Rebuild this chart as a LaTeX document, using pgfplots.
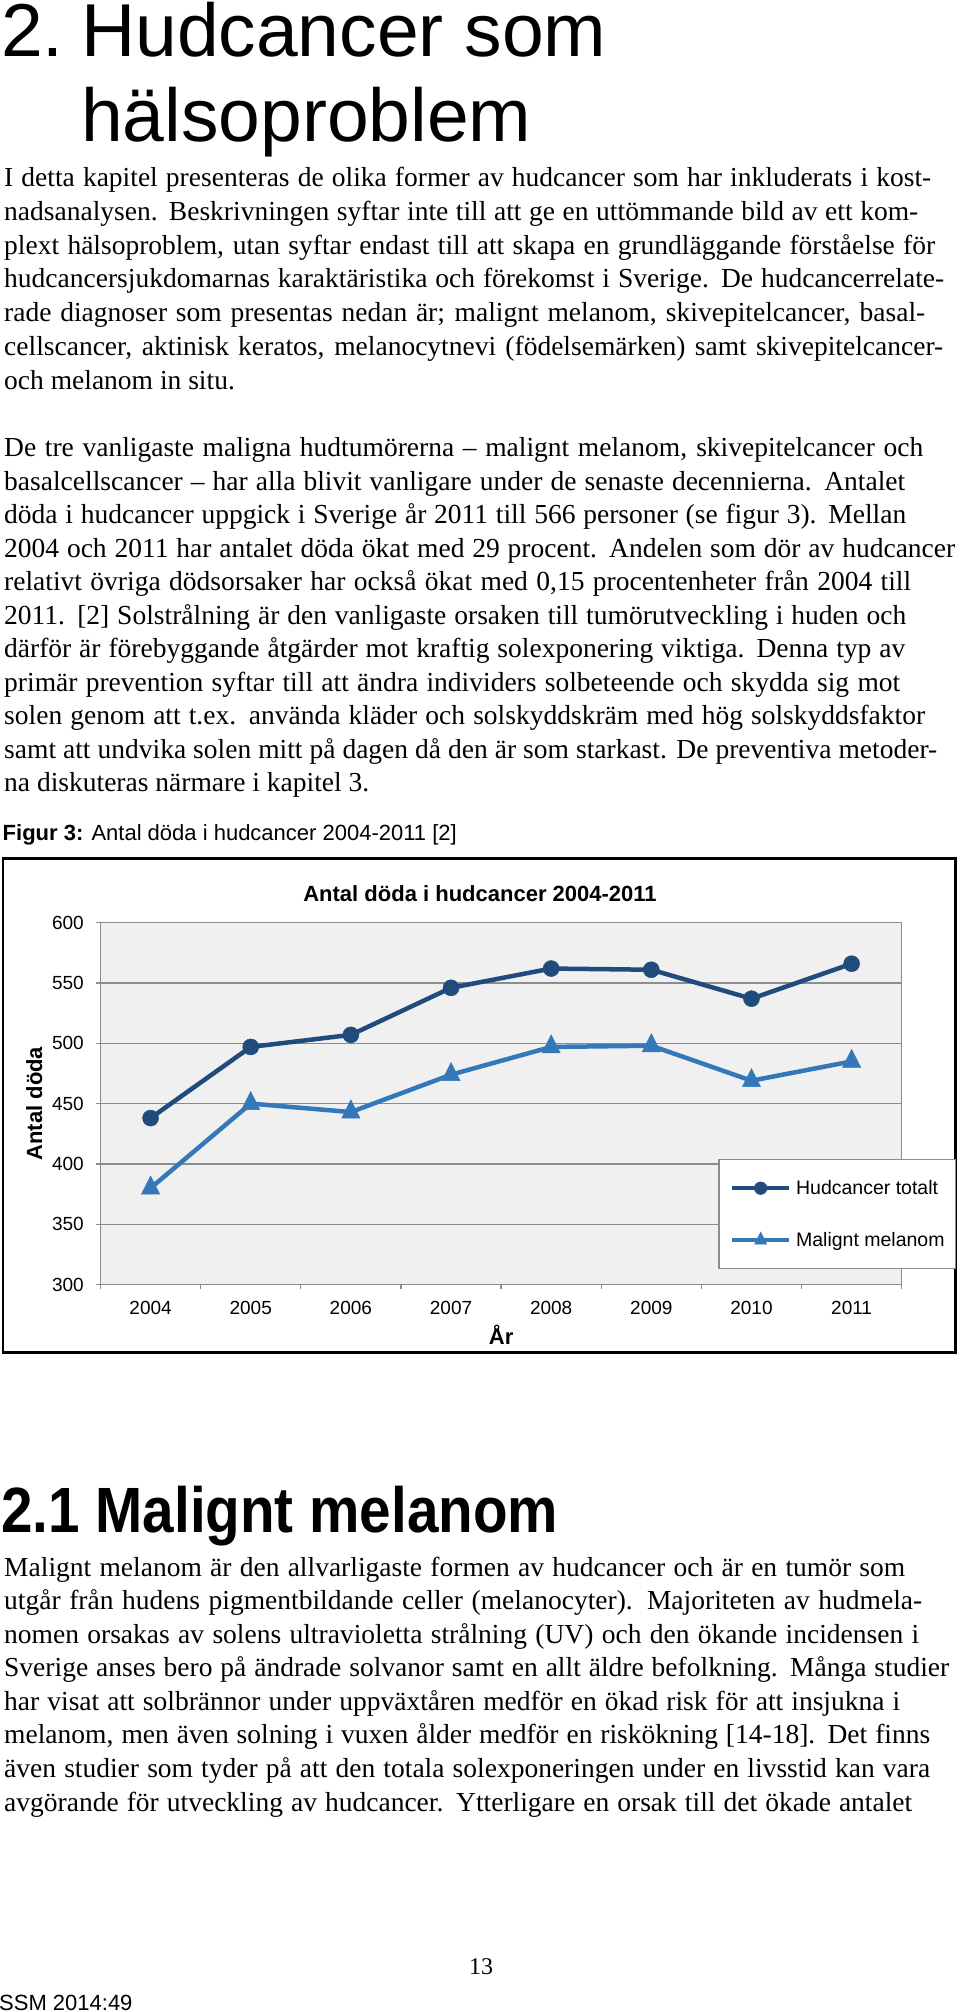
\documentclass[border=0pt]{standalone}
\usepackage{fontspec}
\setmainfont{Liberation Serif}
\newfontfamily\arial{Liberation Sans}
\newfontfamily\arialcond[FakeStretch=0.885]{Liberation Sans}
\usepackage{pgfplots}
\pgfplotsset{compat=1.18}
\definecolor{darkser}{RGB}{33,75,125}
\definecolor{lightser}{RGB}{52,120,186}
\definecolor{gridgray}{RGB}{140,140,140}
\definecolor{plotbg}{RGB}{240,240,240}
\newcommand{\bodyfont}{\fontsize{27.5}{33}\selectfont}
\newcommand{\jl}[3]{\node[anchor=base west, inner sep=0pt] at (4pt,-#1pt) {\bodyfont\makebox[#2pt][s]{#3}};}
\newcommand{\nl}[2]{\node[anchor=base west, inner sep=0pt] at (4pt,-#1pt) {\bodyfont #2};}
\begin{document}
\begin{tikzpicture}[x=1pt,y=1pt]
\useasboundingbox (0,0) rectangle (960,-2012);
% headings
\node[anchor=base west, inner sep=0pt] at (1,-57) {\arial\fontsize{75}{75}\selectfont 2.};
\node[anchor=base west, inner sep=0pt] at (81,-57) {\arial\fontsize{75}{75}\selectfont Hudcancer som};
\node[anchor=base west, inner sep=0pt] at (81,-142) {\arial\fontsize{75}{75}\selectfont hälsoproblem};
% paragraph 1
\jl{186.7}{927}{I detta kapitel presenteras de olika former av hudcancer som har inkluderats i kost-}
\jl{220.4}{914}{nadsanalysen. Beskrivningen syftar inte till att ge en uttömmande bild av ett kom-}
\jl{254.1}{931}{plext hälsoproblem, utan syftar endast till att skapa en grundläggande förståelse för}
\jl{287.8}{940}{hudcancersjukdomarnas karaktäristika och förekomst i Sverige. De hudcancerrelate-}
\jl{321.6}{921}{rade diagnoser som presentas nedan är; malignt melanom, skivepitelcancer, basal-}
\jl{355.3}{939}{cellscancer, aktinisk keratos, melanocytnevi (födelsemärken) samt skivepitelcancer-}
\nl{389.0}{och melanom in situ.}
% paragraph 2
\jl{456.7}{919}{De tre vanligaste maligna hudtumörerna – malignt melanom, skivepitelcancer och}
\jl{490.2}{901}{basalcellscancer – har alla blivit vanligare under de senaste decennierna. Antalet}
\jl{523.7}{902}{döda i hudcancer uppgick i Sverige år 2011 till 566 personer (se figur 3). Mellan}
\jl{557.2}{951}{2004 och 2011 har antalet döda ökat med 29 procent. Andelen som dör av hudcancer}
\jl{590.7}{907}{relativt övriga dödsorsaker har också ökat med 0,15 procentenheter från 2004 till}
\jl{624.2}{902}{2011. [2] Solstrålning är den vanligaste orsaken till tumörutveckling i huden och}
\jl{657.7}{901}{därför är förebyggande åtgärder mot kraftig solexponering viktiga. Denna typ av}
\jl{691.2}{896}{primär prevention syftar till att ändra individers solbeteende och skydda sig mot}
\jl{724.7}{921}{solen genom att t.ex. använda kläder och solskyddskräm med hög solskyddsfaktor}
\jl{758.2}{933}{samt att undvika solen mitt på dagen då den är som starkast. De preventiva metoder-}
\nl{791.7}{na diskuteras närmare i kapitel 3.}
% caption
\node[anchor=base west, inner sep=0pt] at (2.5,-840) {\arial\fontsize{22}{22}\selectfont\textbf{Figur 3:} Antal döda i hudcancer 2004-2011 [2]};
% chart frame
\draw[line width=2.5pt] (3,-858.5) rectangle (955.5,-1352.7);
\begin{axis}[
  at={(100.5pt,-1284.5pt)}, anchor=south west,
  scale only axis, width=801.2pt, height=361.8pt,
  xmin=0.5, xmax=8.5, ymin=300, ymax=600,
  xtick={0.5,1.5,...,8.5}, xticklabels={},
  extra x ticks={1,2,3,4,5,6,7,8},
  extra x tick labels={2004,2005,2006,2007,2008,2009,2010,2011},
  extra x tick style={tick style={draw=none}},
  ytick={300,350,...,600},
  tick pos=left, tick align=outside,
  major tick length=4.5pt,
  ymajorgrids, grid style={gridgray, line width=1.3pt},
  axis line style={gridgray, line width=1.3pt},
  tick style={gridgray, line width=1.3pt},
  axis background/.style={fill=plotbg},
  ticklabel style={font=\arial\fontsize{19}{19}\selectfont, inner sep=0pt},
  xticklabel style={anchor=north},
  yticklabel style={anchor=east, /pgf/number format/assume math mode=true},
  xticklabel shift=11.7pt,
  yticklabel shift=12pt,
  title={Antal döda i hudcancer 2004-2011},
  every axis title/.style={font=\arial\bfseries\fontsize{22}{22}\selectfont, at={(axis description cs:0.4737,1.058)}, anchor=base, inner sep=0pt},
  xlabel={År},
  xlabel style={font=\arial\bfseries\fontsize{22}{22}\selectfont, at={(axis description cs:0.5,-0.1645)}, anchor=base, inner sep=0pt},
  ylabel={Antal döda},
  ylabel style={font=\arial\bfseries\fontsize{22}{22}\selectfont, at={(axis description cs:-0.0730,0.5)}, anchor=base, inner sep=0pt},
  legend style={at={(0.7711,0.3461)}, anchor=north west, draw=gridgray, line width=1.2pt, fill=white,
     font=\arial\fontsize{19.5}{19.5}\selectfont, inner xsep=11pt, inner ysep=20.5pt, row sep=36pt,
     column sep=4.7pt, nodes={inner sep=0pt}},
  legend cell align=left,
]
\addplot[color=darkser, line width=4.5pt, mark=*, mark size=8pt, mark options={solid, fill=darkser, line width=0.5pt},
  legend image code/.code={\draw[mark repeat=2,mark phase=2,mark size=6.3pt] plot coordinates {(0pt,0pt) (28.5pt,0pt) (57pt,0pt)};}]
  coordinates {(1,438)(2,497)(3,507)(4,546)(5,562)(6,561)(7,537)(8,566)};
\addlegendentry{Hudcancer totalt}
\addplot[color=lightser, line width=4.5pt, mark=triangle*, mark size=10.5pt, mark options={solid, fill=lightser, line width=0.5pt, yscale=1.15},
  legend image code/.code={\draw[mark repeat=2,mark phase=2,mark size=7pt] plot coordinates {(0pt,0pt) (28.5pt,0pt) (57pt,0pt)};}]
  coordinates {(1,380)(2,450)(3,443)(4,474)(5,497)(6,498)(7,469)(8,485)};
\addlegendentry{Malignt melanom}
\end{axis}
% heading 2.1
\node[anchor=base west, inner sep=0pt] at (1,-1532) {\arialcond\bfseries\fontsize{64}{64}\selectfont 2.1 Malignt melanom};
% paragraph 3
\jl{1576.0}{901}{Malignt melanom är den allvarligaste formen av hudcancer och är en tumör som}
\jl{1609.6}{918}{utgår från hudens pigmentbildande celler (melanocyter). Majoriteten av hudmela-}
\jl{1643.1}{915}{nomen orsakas av solens ultravioletta strålning (UV) och den ökande incidensen i}
\jl{1676.7}{945}{Sverige anses bero på ändrade solvanor samt en allt äldre befolkning. Många studier}
\jl{1710.3}{896}{har visat att solbrännor under uppväxtåren medför en ökad risk för att insjukna i}
\jl{1743.9}{926}{melanom, men även solning i vuxen ålder medför en riskökning [14-18]. Det finns}
\jl{1777.4}{926}{även studier som tyder på att den totala solexponeringen under en livsstid kan vara}
\jl{1811.0}{908}{avgörande för utveckling av hudcancer. Ytterligare en orsak till det ökade antalet}
% footer
\node[anchor=base, inner sep=0pt] at (481,-1974) {\fontsize{24}{24}\selectfont 13};
\node[anchor=base west, inner sep=0pt] at (-1,-2010.5) {\arial\fontsize{22}{22}\selectfont SSM 2014:49};
\end{tikzpicture}
\end{document}
